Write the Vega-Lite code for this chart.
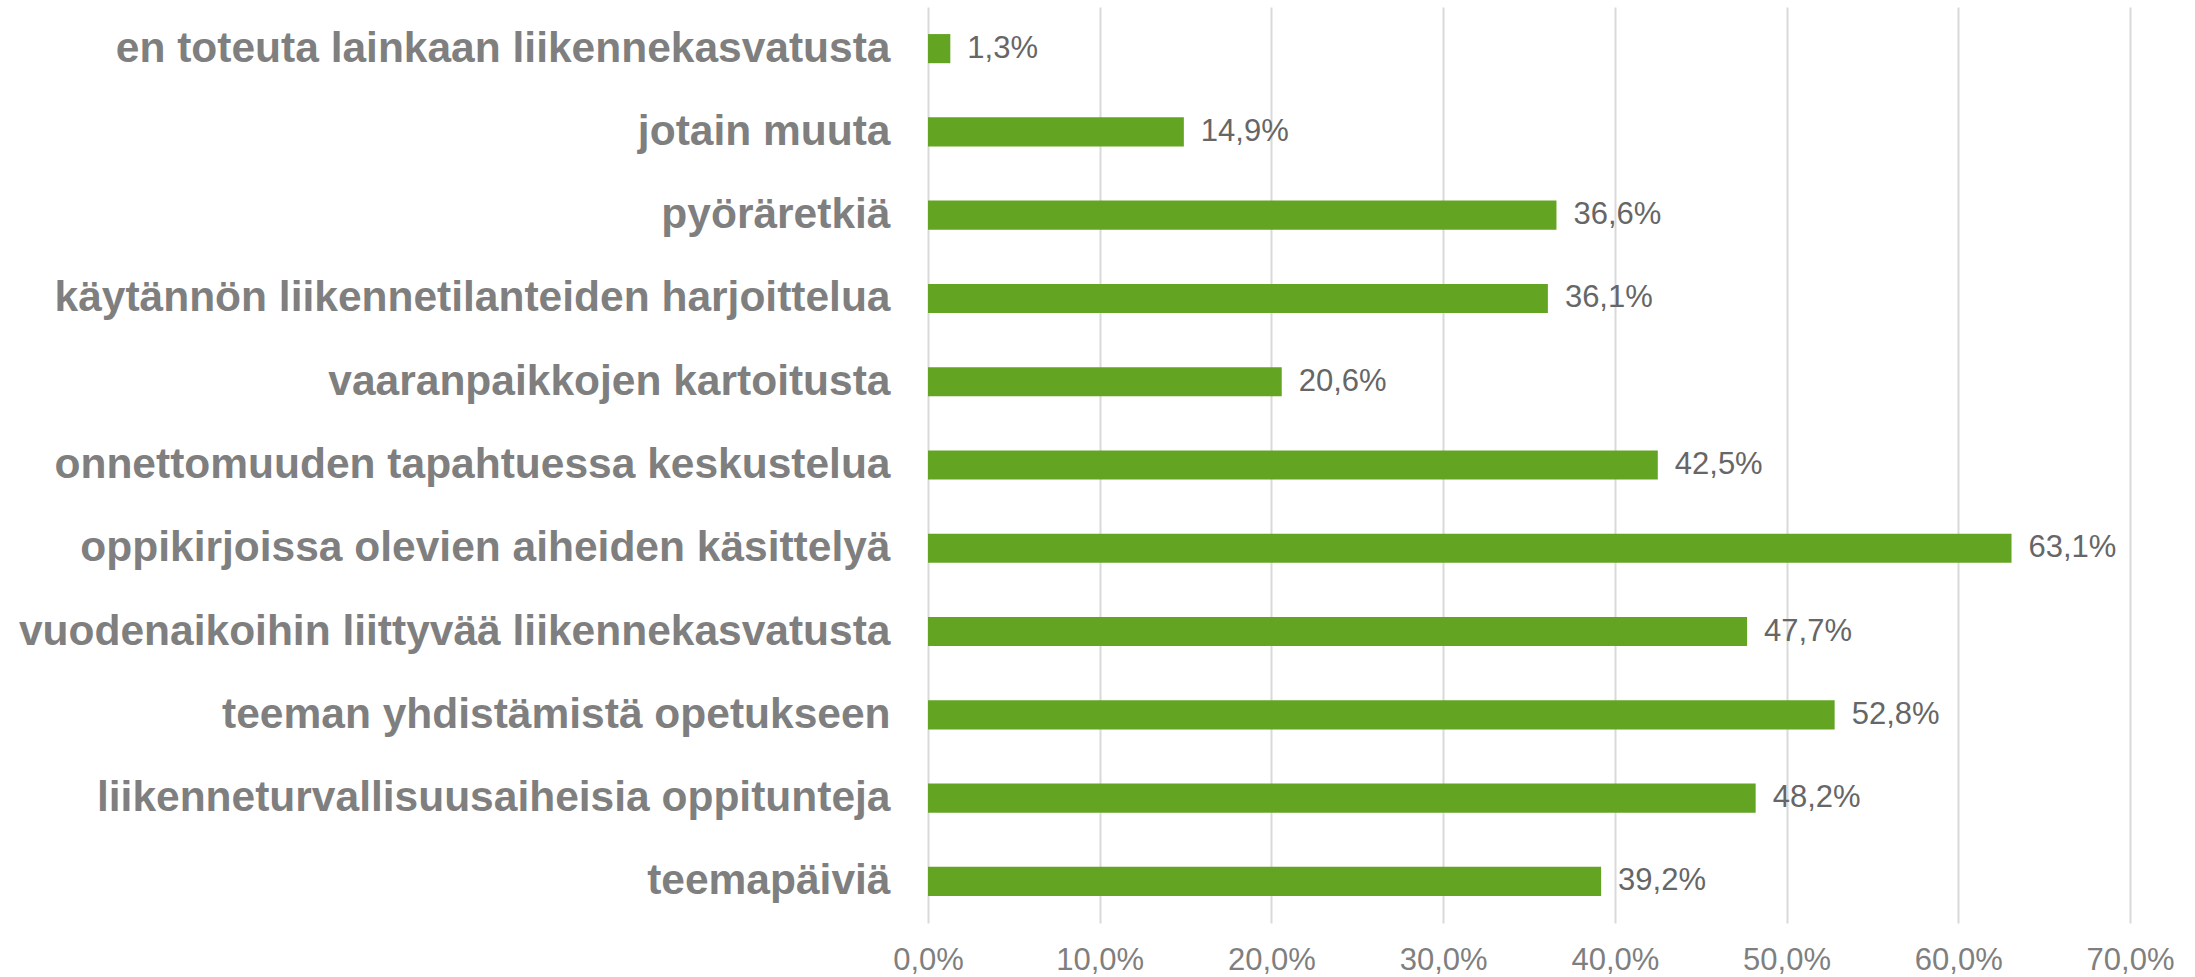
{
  "$schema": "https://vega.github.io/schema/vega-lite/v6.json",
  "autosize": "none",
  "width": 1202,
  "height": 916,
  "padding": {"left": 928, "top": 7, "right": 65, "bottom": 54},
  "background": "white",
  "config": {
    "locale": {"number": {"decimal": ",", "thousands": " ", "grouping": [3], "currency": ["", " €"]}},
    "view": {"stroke": null},
    "font": "Liberation Sans"
  },
  "data": {
    "values": [
      {"kategoria": "en toteuta lainkaan liikennekasvatusta", "osuus": 0.013},
      {"kategoria": "jotain muuta", "osuus": 0.149},
      {"kategoria": "pyöräretkiä", "osuus": 0.366},
      {"kategoria": "käytännön liikennetilanteiden harjoittelua", "osuus": 0.361},
      {"kategoria": "vaaranpaikkojen kartoitusta ", "osuus": 0.206},
      {"kategoria": "onnettomuuden tapahtuessa keskustelua", "osuus": 0.425},
      {"kategoria": "oppikirjoissa olevien aiheiden käsittelyä", "osuus": 0.631},
      {"kategoria": "vuodenaikoihin liittyvää liikennekasvatusta", "osuus": 0.477},
      {"kategoria": "teeman yhdistämistä opetukseen", "osuus": 0.528},
      {"kategoria": "liikenneturvallisuusaiheisia oppitunteja", "osuus": 0.482},
      {"kategoria": "teemapäiviä", "osuus": 0.392}
    ]
  },
  "encoding": {
    "y": {
      "field": "kategoria",
      "type": "nominal",
      "sort": null,
      "scale": {"paddingInner": 0.65, "paddingOuter": 0.325},
      "axis": {
        "title": null,
        "domain": false,
        "ticks": false,
        "labelPadding": 38,
        "labelFontSize": 42.5,
        "labelFontWeight": "bold",
        "labelColor": "#7f7f7f",
        "labelFont": "Liberation Sans",
        "labelLimit": 1000
      }
    },
    "x": {
      "field": "osuus",
      "type": "quantitative",
      "scale": {"domain": [0, 0.7], "nice": false},
      "axis": {
        "title": null,
        "format": ".1%",
        "values": [0, 0.1, 0.2, 0.3, 0.4, 0.5, 0.6, 0.7],
        "domain": false,
        "ticks": false,
        "grid": true,
        "gridColor": "#d9d9d9",
        "gridWidth": 2,
        "labelFontSize": 31,
        "labelColor": "#7f7f7f",
        "labelPadding": 22,
        "labelFlush": false,
        "labelOverlap": false,
        "labelFont": "Liberation Sans"
      }
    }
  },
  "layer": [
    {"mark": {"type": "bar", "color": "#63a423"}},
    {
      "mark": {"type": "text", "align": "left", "baseline": "middle", "dx": 17, "fontSize": 31, "color": "#666666", "font": "Liberation Sans"},
      "encoding": {"text": {"field": "osuus", "type": "quantitative", "format": ".1%"}}
    }
  ]
}
